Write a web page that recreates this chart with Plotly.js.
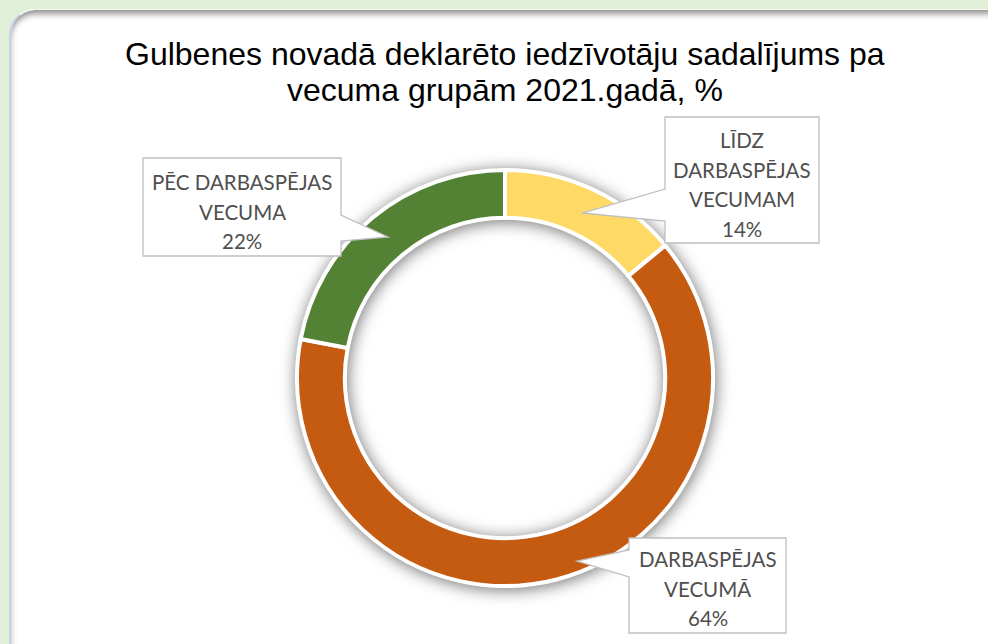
<!DOCTYPE html>
<html>
<head>
<meta charset="utf-8">
<script src="https://cdn.plot.ly/plotly-3.0.1.min.js"></script>
<style>
  html, body { margin: 0; padding: 0; width: 988px; height: 644px; overflow: hidden; background: #E2EFD9; }
  #panel {
    position: absolute; left: 9px; top: 9px; width: 1010px; height: 670px;
    background: #ffffff; border-radius: 26px;
    border-left: 2px solid #c3d2ea; border-top: 1px solid #f4f7f2;
    box-shadow: inset 0 7px 6px -3px rgba(0,0,0,0.42), inset 5px 0 6px -4px rgba(0,0,0,0.15);
  }
  #chart { position: absolute; left: 0; top: 0; width: 988px; height: 644px; }
</style>
</head>
<body>
<div id="panel"></div>
<div id="chart"></div>
<script>
// ---- data ----
const categories = ["LĪDZ DARBASPĒJAS VECUMAM", "DARBASPĒJAS VECUMĀ", "PĒC DARBASPĒJAS VECUMA"];
const labelLines = [["LĪDZ", "DARBASPĒJAS", "VECUMAM"], ["DARBASPĒJAS", "VECUMĀ"], ["PĒC DARBASPĒJAS", "VECUMA"]];
const values = [14, 64, 22];
const titleLines = ["Gulbenes novadā deklarēto iedzīvotāju sadalījums pa", "vecuma grupām 2021.gadā, %"];

// ---- styles / layout ----
const sliceColors = ["#FFD966", "#C55A11", "#548235"];
const W = 988, H = 644;
const px = x => x / W;
const py = y => 1 - y / H;

// callout geometry in pixels (layout, not data)
const callouts = [
  { box: [665, 117, 819, 243], side: "left",  base: [189, 221], tip: [582, 213], firstLine: 140 },
  { box: [629, 538, 786, 633], side: "left",  base: [550, 577], tip: [577, 561], firstLine: 559 },
  { box: [143, 158, 341, 256], side: "right", base: [215, 241], tip: [388, 237], firstLine: 182 }
];
const lineStep = 29.5;

const total = values.reduce((a, b) => a + b, 0);
const shapes = [];
const annotations = [];

// title lines
titleLines.forEach((t, k) => {
  annotations.push({
    xref: "paper", yref: "paper", x: px(505), y: py(54 + k * 36.5),
    xanchor: "center", yanchor: "middle", showarrow: false, text: t,
    font: { family: "'Liberation Sans', Arial, sans-serif", size: 32, color: "#000000" }
  });
});

callouts.forEach((c, i) => {
  const [l, t, r, b] = c.box;
  let pts;
  if (c.side === "left") {
    pts = [[l, t], [r, t], [r, b], [l, b], [l, c.base[1]], c.tip, [l, c.base[0]]];
  } else {
    pts = [[l, t], [r, t], [r, c.base[0]], c.tip, [r, c.base[1]], [r, b], [l, b]];
  }
  const path = "M" + pts.map(p => px(p[0]).toFixed(5) + "," + py(p[1]).toFixed(5)).join(" L") + " Z";
  shapes.push({
    type: "path", xref: "paper", yref: "paper", path: path,
    fillcolor: "#ffffff", line: { color: "#BFBFBF", width: 1.3 }, layer: "above"
  });
  const lines = labelLines[i].concat([Math.round(values[i] / total * 100) + "%"]);
  const cx = (l + r) / 2;
  lines.forEach((txt, k) => {
    annotations.push({
      xref: "paper", yref: "paper", x: px(cx), y: py(c.firstLine + k * lineStep),
      xanchor: "center", yanchor: "middle", showarrow: false, text: txt,
      font: { family: "Lato, 'Open Sans', sans-serif", size: 20.5, color: "#4f4f4f" }
    });
  });
});

const trace = {
  type: "pie",
  labels: categories,
  values: values,
  sort: false,
  direction: "clockwise",
  rotation: 0,
  hole: 0.77,
  textinfo: "none",
  hoverinfo: "none",
  marker: { colors: sliceColors, line: { color: "#ffffff", width: 4 } },
  domain: { x: [px(297), px(713)], y: [py(586), py(170)] },
  showlegend: false
};

const layout = {
  width: W, height: H,
  margin: { l: 0, r: 0, t: 0, b: 0 },
  paper_bgcolor: "rgba(0,0,0,0)",
  plot_bgcolor: "rgba(0,0,0,0)",
  showlegend: false,
  shapes: shapes,
  annotations: annotations
};

Plotly.newPlot("chart", [trace], layout, { staticPlot: true, displayModeBar: false }).then(() => {
  document.querySelectorAll(".pielayer .trace").forEach(el => {
    el.style.filter = "drop-shadow(1px 2px 8px rgba(0,0,0,0.55))";
  });
});
</script>
</body>
</html>
